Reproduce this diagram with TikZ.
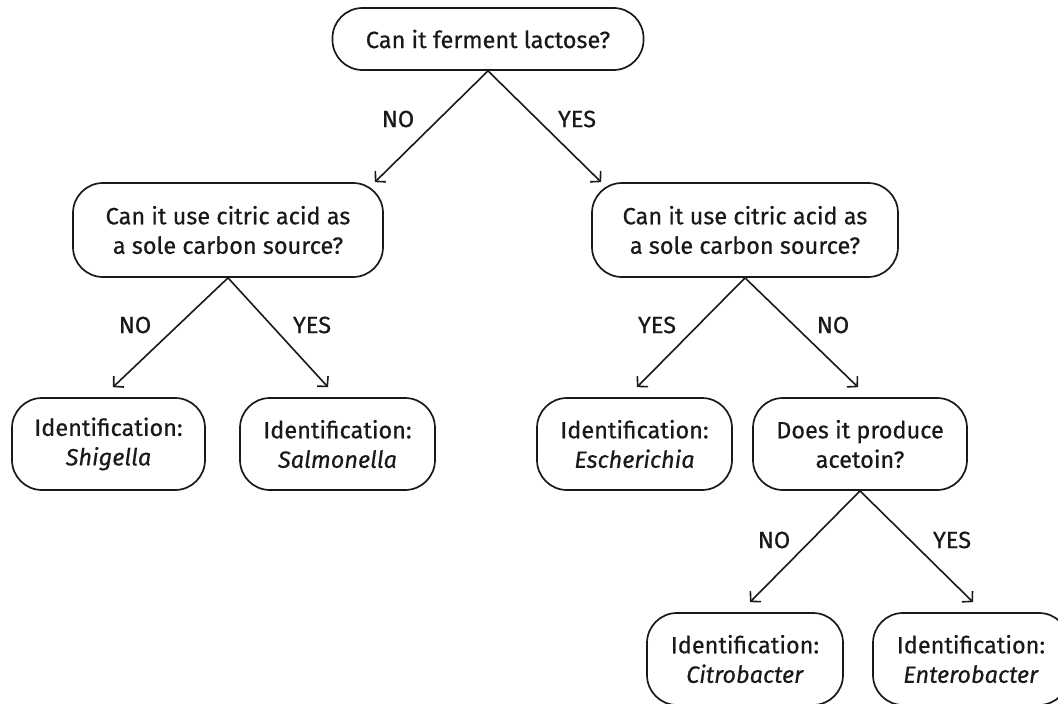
\documentclass[tikz,border=0pt]{standalone}
\usepackage{fontspec}
\setmainfont{Fira Sans}[FakeBold=0.5]
\usetikzlibrary{arrows.meta}

\tikzset{
  qbox/.style={draw=black!90, line width=1.7pt, rounded corners=30pt, align=center,
    inner sep=0pt, minimum height=92pt, text=black!90, font=\fontsize{23.5}{29.5}\selectfont},
  answer/.style={text=black!90, font=\fontsize{23.5}{29.5}\selectfont},
  branch/.style={line width=1.6pt, draw=black!90,
    -{Straight Barb[length=7pt,width=15pt,line width=1.6pt]}}
}

\begin{document}
\begin{tikzpicture}[x=1pt,y=-1pt]
			\useasboundingbox (0,0) rectangle (1058,704);
			% questions
			\node[qbox, minimum width=311pt, minimum height=62pt] (lactose) at (488,39) {Can it ferment lactose?};
			\node[qbox, minimum width=310pt, minimum height=94pt] (citricL) at (228,230) {Can it use citric acid as\\a sole carbon source?};
			\node[qbox, minimum width=306pt, minimum height=94pt] (citricR) at (745,230) {Can it use citric acid as\\a sole carbon source?};
			\node[qbox, minimum width=214pt] (acetoin) at (860,444) {Does it produce\\acetoin?};
			% identifications
			\node[qbox, minimum width=193pt] (shigella) at (108.5,444) {Identification:\\\textit{Shigella}};
			\node[qbox, minimum width=195pt] (salmonella) at (337.5,444) {Identification:\\\textit{Salmonella}};
			\node[qbox, minimum width=195pt] (escherichia) at (634.5,444) {Identification:\\\textit{Escherichia}};
			\node[qbox, minimum width=196pt] (citrobacter) at (745,659) {Identification:\\\textit{Citrobacter}};
			\node[qbox, minimum width=196pt] (enterobacter) at (971,659) {Identification:\\\textit{Enterobacter}};
			% branches
			\draw[branch] (lactose.south) -- ([xshift=-9pt]citricL.north east);
			\draw[branch] (lactose.south) -- ([xshift=10pt]citricR.north west);
			\draw[branch] (citricL.south) -- ([xshift=4.5pt,yshift=10pt]shigella.north);
			\draw[branch] (citricL.south) -- ([xshift=-9.5pt,yshift=10pt]salmonella.north);
			\draw[branch] (citricR.south) -- ([xshift=2.5pt,yshift=10pt]escherichia.north);
			\draw[branch] (citricR.south) -- ([xshift=-2pt,yshift=10pt]acetoin.north);
			\draw[branch] (acetoin.south) -- ([xshift=5pt,yshift=10pt]citrobacter.north);
			\draw[branch] (acetoin.south) -- ([xshift=2pt,yshift=10pt]enterobacter.north);
			% answers
			\node[answer] (noA) at (398,119) {NO};
			\node[answer] (yesA) at (577,119) {YES};
			\node[answer] (noB) at (135,325) {NO};
			\node[answer] (yesB) at (312,325) {YES};
			\node[answer] (yesC) at (657,325) {YES};
			\node[answer] (noC) at (833,325) {NO};
			\node[answer] (noD) at (774,540) {NO};
			\node[answer] (yesD) at (952,540) {YES};
		\end{tikzpicture}
\end{document}
